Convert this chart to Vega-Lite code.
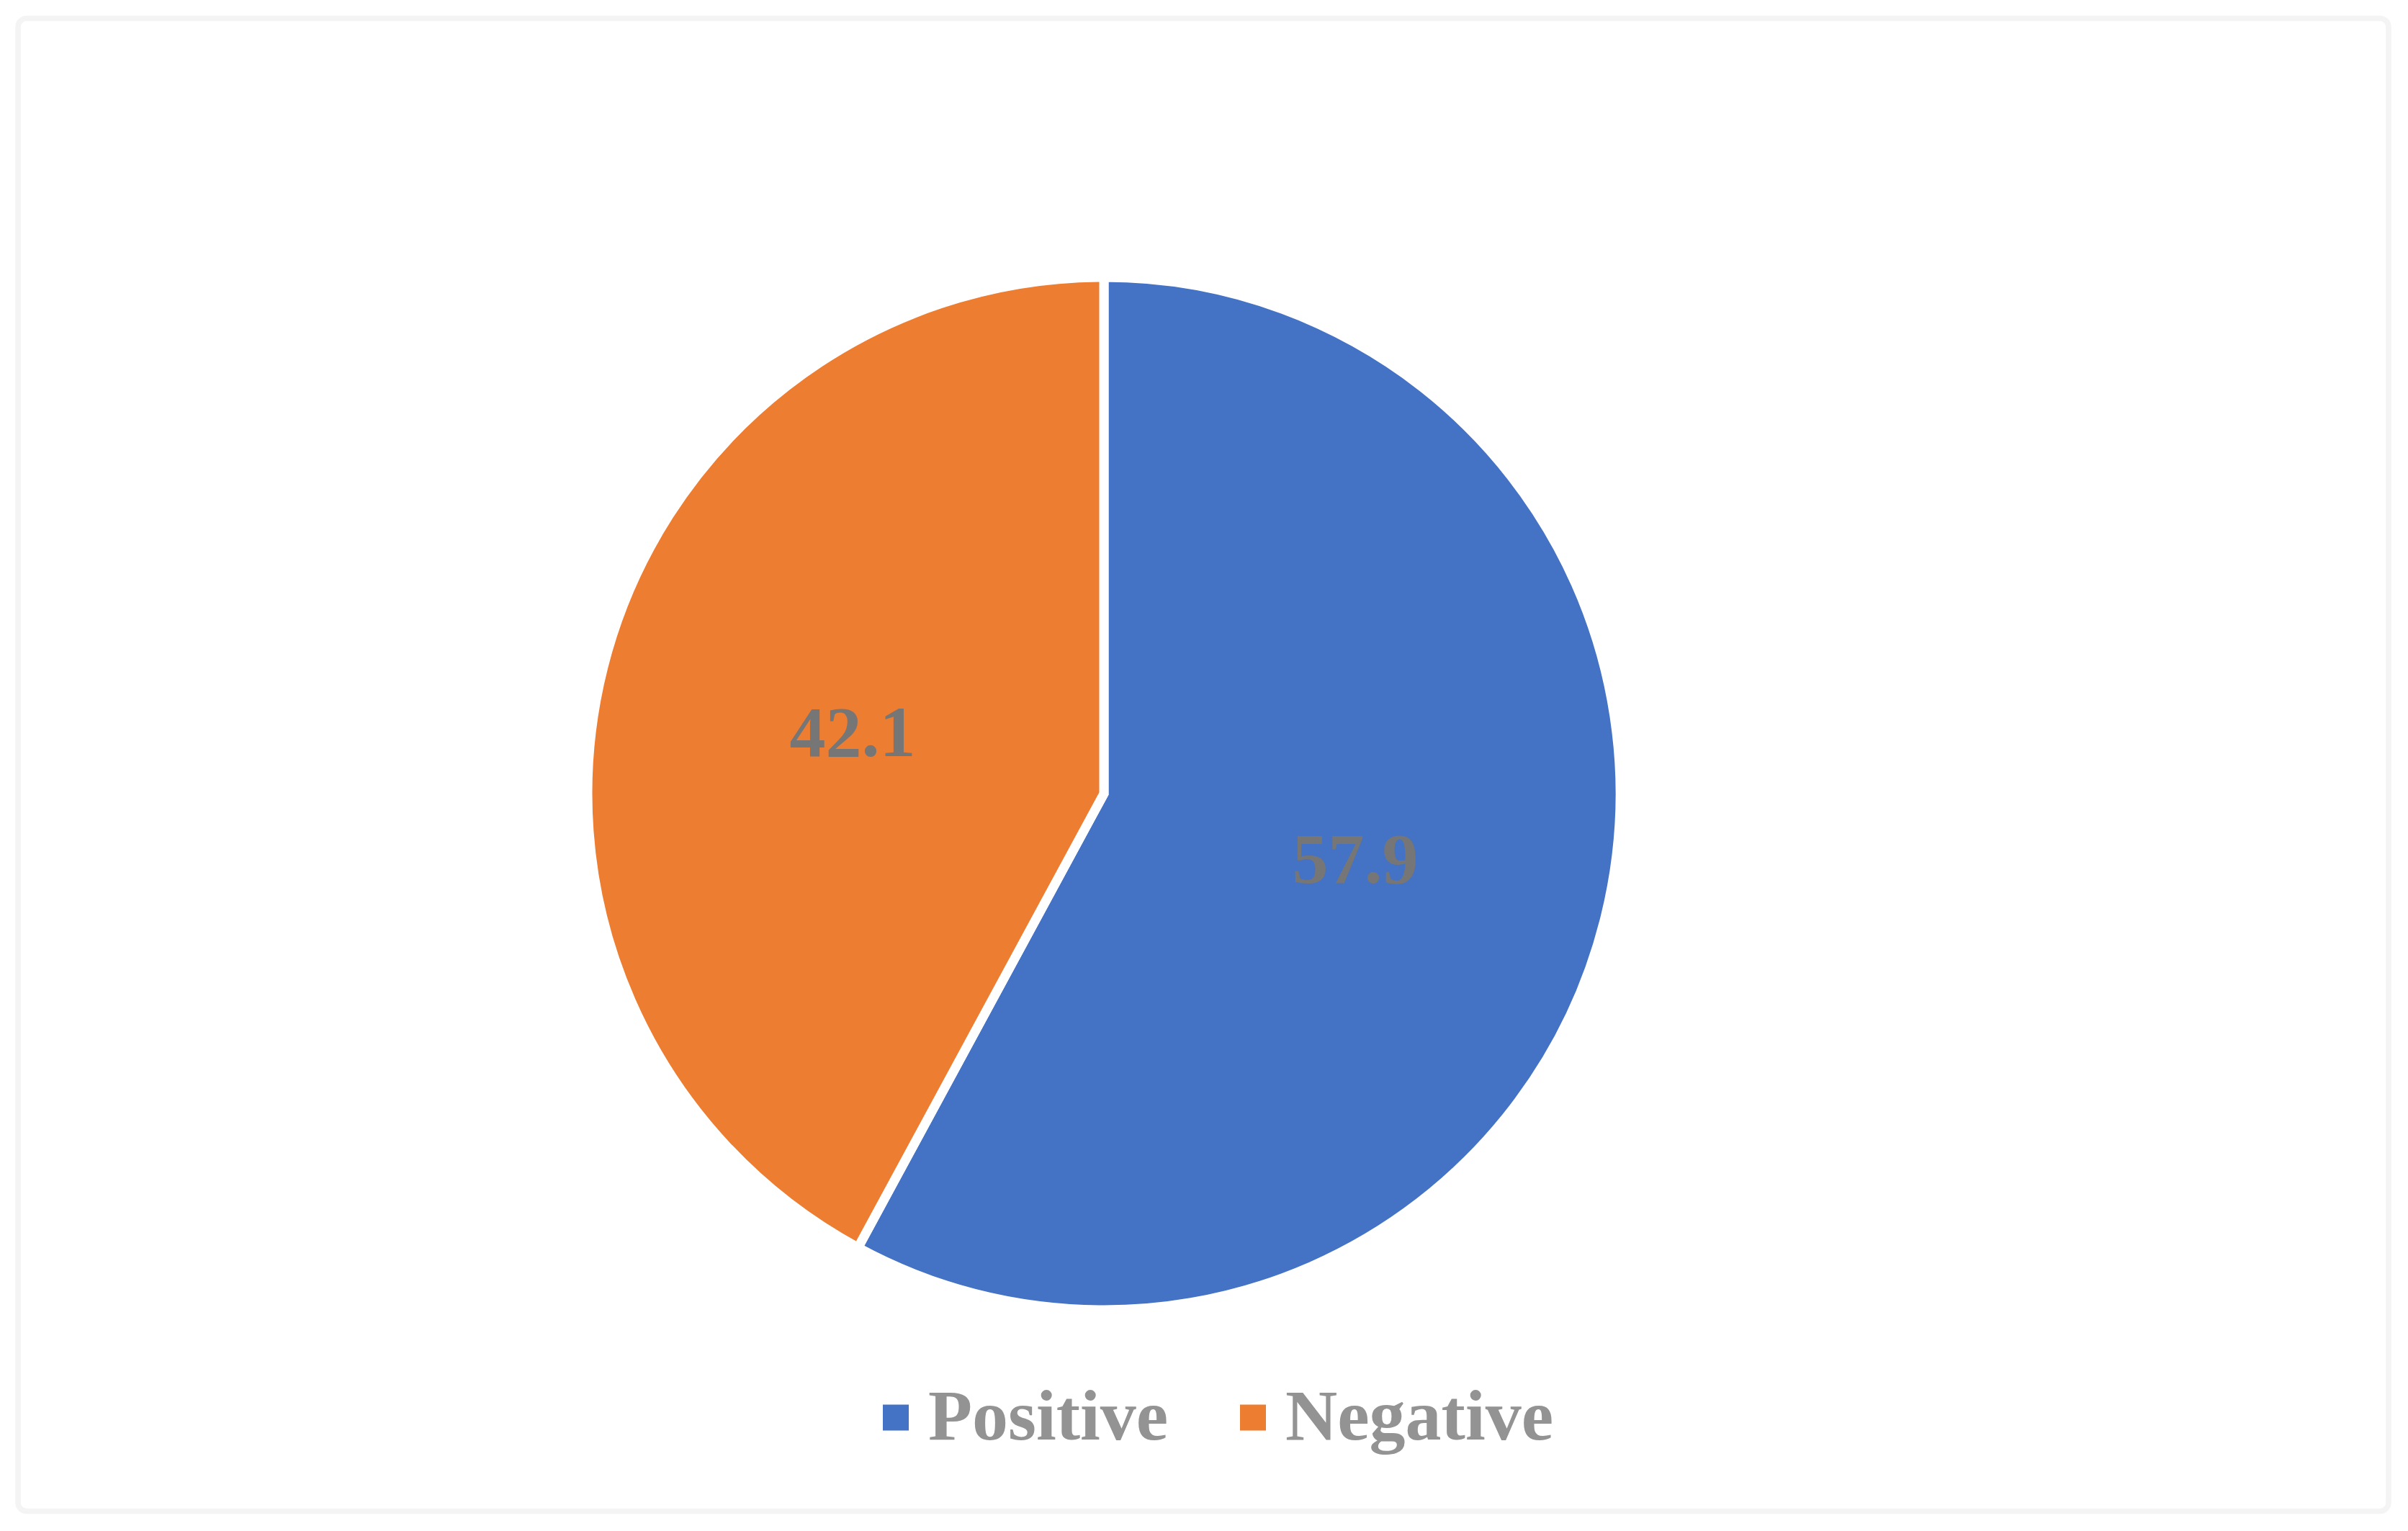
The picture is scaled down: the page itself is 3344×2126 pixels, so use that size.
{
  "$schema": "https://vega.github.io/schema/vega-lite/v6.json",
  "width": 3292,
  "height": 2073,
  "autosize": {"type": "none"},
  "padding": {"left": 25, "top": 25.5, "right": 27, "bottom": 27.5},
  "background": "white",
  "config": {"view": {"stroke": null}},
  "data": {
    "values": [
      {"sentiment": "Positive", "value": 57.9},
      {"sentiment": "Negative", "value": 42.1}
    ]
  },
  "layer": [
    {
      "data": {"values": [{}]},
      "mark": {
        "type": "rect",
        "fill": null,
        "stroke": "#f4f4f4",
        "strokeWidth": 7.5,
        "cornerRadius": 12
      },
      "encoding": {}
    },
    {
      "mark": {
        "type": "arc",
        "radius": 717,
        "stroke": "white",
        "strokeWidth": 13,
        "xOffset": -138,
        "yOffset": 40
      },
      "encoding": {
        "theta": {"field": "value", "type": "quantitative", "stack": true},
        "order": {"field": "value", "sort": "descending"},
        "color": {
          "field": "sentiment",
          "type": "nominal",
          "scale": {"domain": ["Positive", "Negative"], "range": ["#4472C4", "#ED7D31"]},
          "legend": {
            "orient": "none",
            "legendX": 1169,
            "legendY": 1893,
            "direction": "horizontal",
            "title": null,
            "padding": 0,
            "symbolType": "square",
            "symbolSize": 1296,
            "symbolStrokeWidth": 0,
            "labelFont": "Times New Roman, Liberation Serif, serif",
            "labelFontWeight": "bold",
            "labelFontSize": 100,
            "labelColor": "#939393",
            "labelLimit": 0,
            "labelOffset": -5,
            "columnPadding": 67
          }
        }
      }
    },
    {
      "mark": {
        "type": "text",
        "radius": 360,
        "xOffset": -138,
        "yOffset": 46,
        "font": "Times New Roman, Liberation Serif, serif",
        "fontWeight": "bold",
        "fontSize": 100,
        "baseline": "middle",
        "align": "center",
        "color": "#767676"
      },
      "encoding": {
        "theta": {"field": "value", "type": "quantitative", "stack": true},
        "order": {"field": "value", "sort": "descending"},
        "text": {"field": "value", "type": "quantitative", "format": ".1f"}
      }
    }
  ]
}
